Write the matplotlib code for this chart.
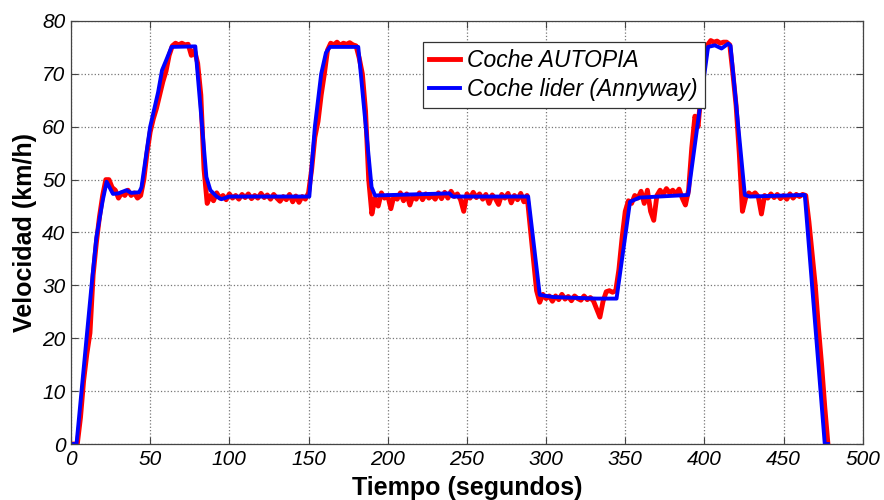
import matplotlib
matplotlib.use("Agg")
from matplotlib import pyplot as plt

# Coche lider (Annyway): waypoints
lider_t = [0, 3.5, 13, 16, 20, 22.5, 26.5, 30, 35, 38, 43, 44.5, 50, 55, 57.5, 60, 63.5,
           78.5, 85.5, 88, 92, 95, 100, 150.5, 154, 158, 161, 163.5, 181.4, 189.8, 192,
           239, 241, 288.7, 296, 304.5, 331.9, 344.5, 353, 359, 389.7, 402.3, 406.6,
           410.8, 415, 416.5, 425.5, 428.7, 463.4, 476, 478]
lider_v = [0, 0, 30, 39, 46, 49.6, 47.3, 47.4, 48, 47.5, 47.6, 48.5, 60, 66.5, 70.7, 72.5, 75.1,
           75.2, 50.5, 48, 46.8, 46.3, 46.8, 46.8, 60, 70, 74, 75.1, 75.1, 48.6, 47,
           47.4, 46.8, 46.8, 28.2, 27.8, 27.5, 27.5, 45.8, 46.6, 47.1, 75.1, 75.4,
           74.8, 75.7, 75.3, 47.1, 46.8, 47.1, 0, 0]

# Coche AUTOPIA: one reading every 2 seconds
autopia_t = list(range(0, 480, 2))
autopia_v = [
    0, 0, 0, 5, 12, 17, 21, 32, 38, 43,                      # 0-18
    47, 50, 50, 48.5, 48, 46.5, 47.5, 47, 48, 47,            # 20-38
    47.5, 46.5, 47, 50, 55, 59, 61.5, 63.5, 66, 68.5,        # 40-58
    70.5, 73.5, 75.3, 75.8, 75.5, 75.8, 75.5, 75.6, 73.5, 74.5,  # 60-78
    72, 66, 52, 45.5, 47, 46, 47.5, 46.5, 47, 46.2,          # 80-98
    47.3, 46.5, 47, 46.3, 47.2, 46.6, 47.3, 46.4, 47, 46.5,  # 100-118
    47.4, 46.6, 47.1, 46.3, 47.2, 46.5, 45.9, 46.8, 46.2, 47.2,  # 120-138
    45.8, 46.9, 45.7, 46.8, 46.3, 47.5, 52, 58, 61, 66,      # 140-158
    70, 74.5, 75.8, 75.5, 76, 75.4, 75.8, 75.6, 75.9, 75.5,  # 160-178
    75.3, 73, 70, 63, 50, 43.5, 46.5, 45, 47.5, 46.5,        # 180-198
    47, 44.5, 47, 46.3, 47.5, 46, 47.3, 45.2, 47, 46.3,      # 200-218
    47.5, 46.2, 47.3, 46.5, 47, 46.3, 47.5, 46.4, 47.6, 46.5,  # 220-238
    47.8, 46.8, 47.3, 46.2, 44, 47.3, 46.5, 47.6, 46.6, 47.3,  # 240-258
    46.3, 47.2, 45.5, 47.1, 46.4, 45.3, 47.2, 46.5, 47.4, 45.6,  # 260-278
    47, 46.2, 47.4, 45.8, 47, 41, 35, 29, 26.8, 28.3,        # 280-298
    27.5, 28, 27, 28, 27.3, 28.3, 27.4, 27.9, 27.1, 28,      # 300-318
    27.5, 27.2, 28, 27.3, 27.7, 27, 25.5, 24, 27, 28.8,      # 320-338
    29, 28.7, 29, 33, 39, 44, 46, 45.5, 47, 46.5,            # 340-358
    47.8, 45.5, 48, 44, 42.3, 47, 48, 47.2, 48.3, 47.5,      # 360-378
    48, 47.3, 48.2, 46.5, 45.2, 48, 56, 62, 60, 67,          # 380-398
    72, 75.5, 76.3, 76, 76.2, 75.8, 76, 76, 75.5, 70,        # 400-418
    64, 55, 44, 46.5, 47.5, 47, 47.5, 46.8, 43.5, 47,        # 420-438
    46.5, 47.3, 46.6, 47.2, 46.4, 47, 46.3, 47.3, 46.5, 47.2,  # 440-458
    46.8, 47.2, 47, 42, 36, 30, 22, 15, 7, 0,                # 460-478
]

plt.rcParams['font.family'] = ['Liberation Sans', 'DejaVu Sans']

fig = plt.figure(figsize=(8.84, 5.0), dpi=100)
ax = fig.add_axes([0.0803, 0.112, 0.8957, 0.846])

ax.plot(autopia_t, autopia_v, color='#ff0000', linewidth=3.5, label='Coche AUTOPIA')
ax.plot(lider_t, lider_v, color='#0000ff', linewidth=2.8, label='Coche lider (Annyway)')

ax.set_xlim(0, 500)
ax.set_ylim(0, 80)
ax.set_xticks(range(0, 501, 50))
ax.set_yticks(range(0, 81, 10))
ax.grid(True, linestyle=':', color='#777777', linewidth=0.9)
ax.tick_params(direction='in', top=True, right=True, length=5, width=0.8,
               labelsize=15, pad=4, color='#444444')
for lab in ax.get_xticklabels() + ax.get_yticklabels():
    lab.set_fontstyle('italic')
for sp in ax.spines.values():
    sp.set_color('#444444')
    sp.set_linewidth(0.9)

ax.set_xlabel('Tiempo (segundos)', fontsize=18, fontweight='bold', labelpad=5)
ax.set_ylabel('Velocidad (km/h)', fontsize=18, fontweight='bold', labelpad=4)

lgnd = ax.legend(loc='upper left', bbox_to_anchor=(0.444, 0.951), borderaxespad=0,
                 fancybox=False, framealpha=1, edgecolor='#333333',
                 prop={'style': 'italic', 'size': 16.5},
                 handlelength=1.35, handletextpad=0.3, labelspacing=0.3, borderpad=0.3)
lgnd.get_frame().set_linewidth(0.9)

plt.savefig('out.png', dpi=100)
